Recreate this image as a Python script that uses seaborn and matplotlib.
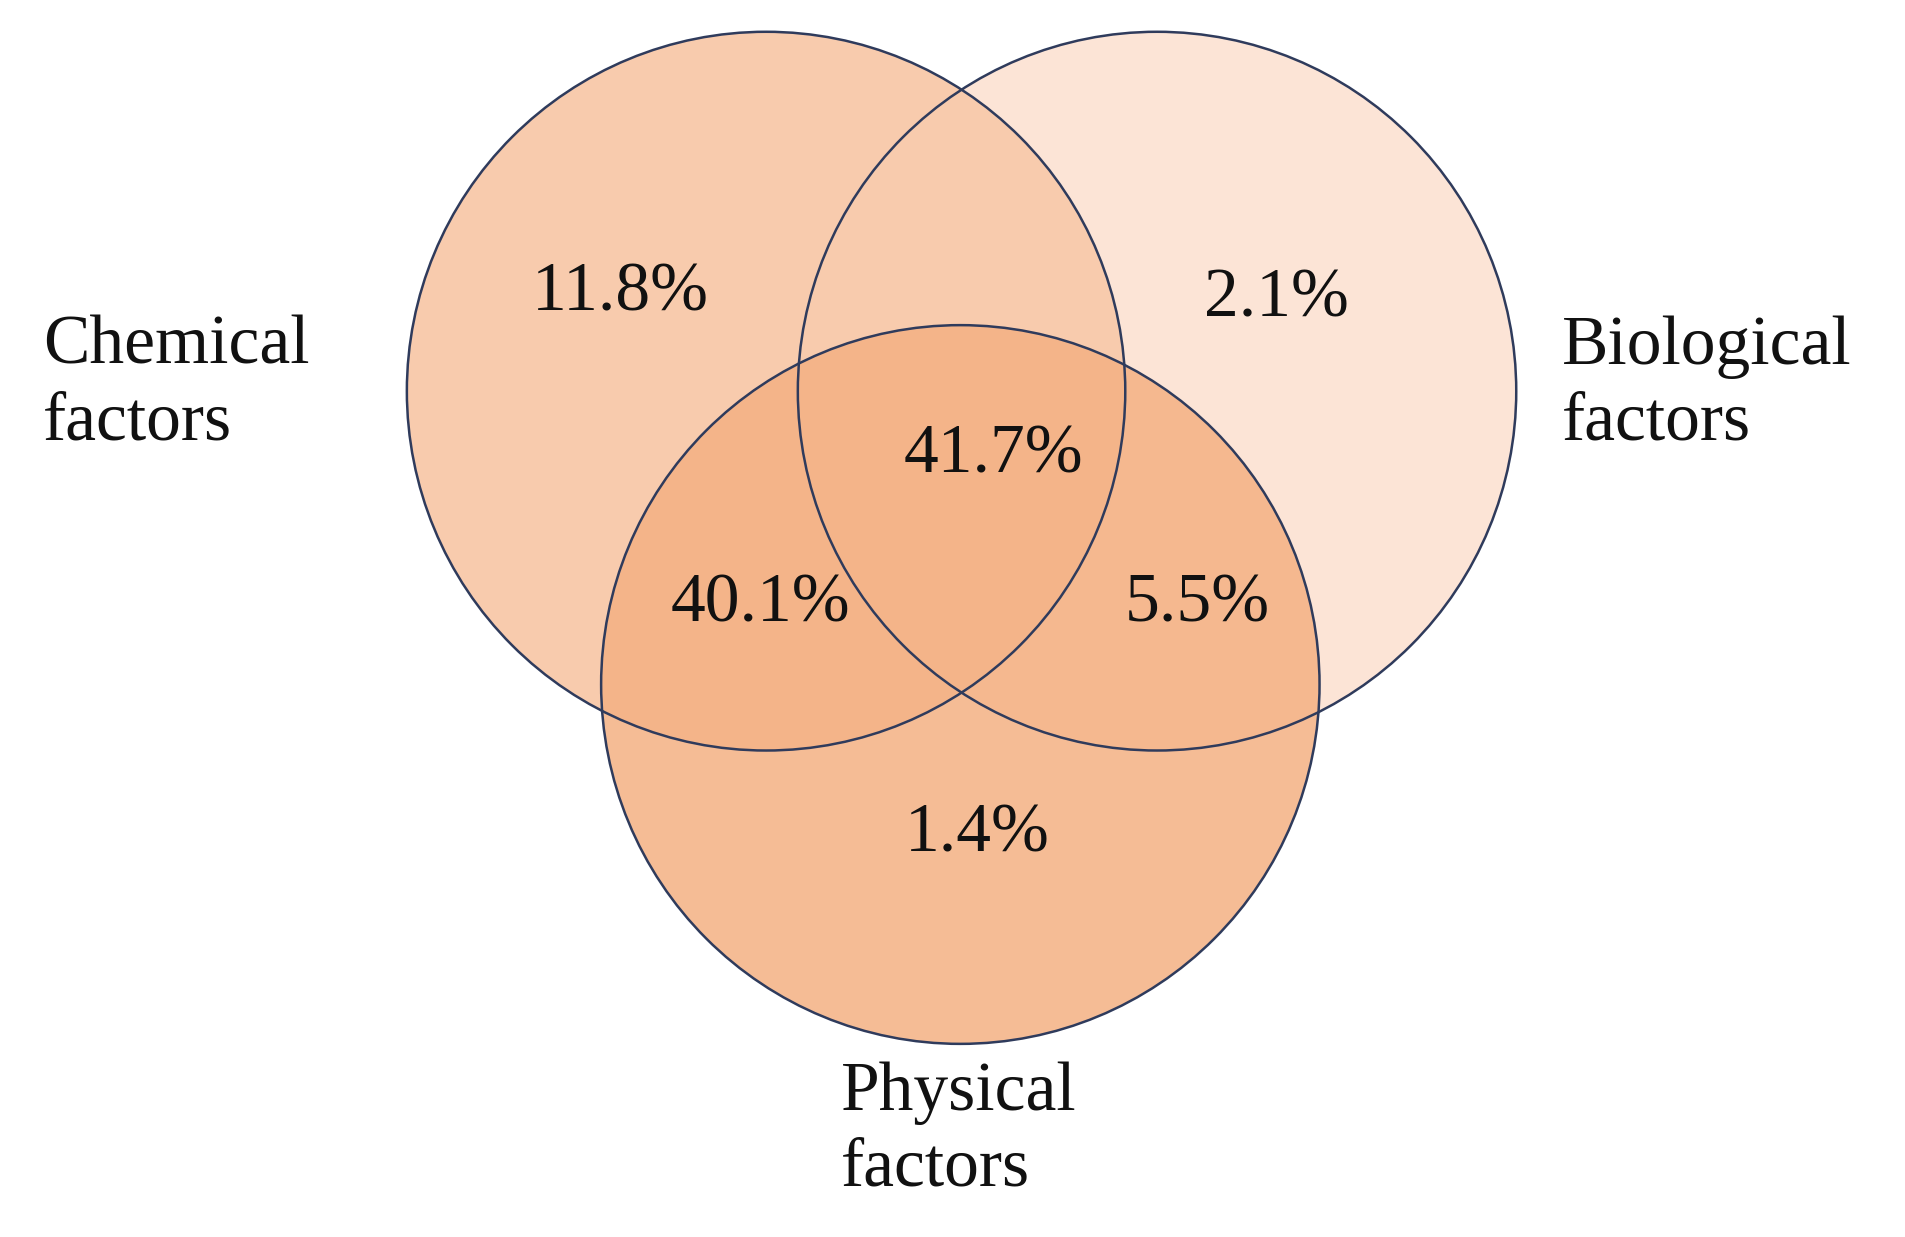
# Venn diagram of factor groups
import matplotlib
matplotlib.use("Agg")
import matplotlib.pyplot as plt
from matplotlib.patches import Circle
import seaborn as sns

sns.set_style("white")
plt.rcParams['font.family'] = ['Liberation Serif', 'DejaVu Serif']

# data
set_names = ["Chemical\nfactors", "Biological\nfactors", "Physical\nfactors"]
region_labels = ["11.8%", "2.1%", "41.7%", "40.1%", "5.5%", "1.4%"]

# layout (in reference pixel space, 1560 x 1012)
centers = [(627, 320), (947, 320), (786, 560)]
radius = 294
fills = ["#F8CBAD", "#FCE4D6", "#F4B183"]
alphas = [1.0, 1.0, 0.85]
draw_order = [1, 0, 2]
region_pos = [(508, 240), (1045, 245), (813, 373), (622, 495), (980, 495), (800, 683)]
name_pos = [(35, 315), (1278, 315), (688, 925)]

fig = plt.figure(figsize=(19.06, 12.37), dpi=100)
ax = fig.add_axes([0, 0, 1, 1])
ax.set_xlim(0, 1560)
ax.set_ylim(1012, 0)
ax.axis("off")

for i in draw_order:
    ax.add_patch(Circle(centers[i], radius, facecolor=fills[i], alpha=alphas[i],
                        edgecolor="none", zorder=1))
for i in draw_order:
    ax.add_patch(Circle(centers[i], radius, facecolor="none",
                        edgecolor="#2F3B5C", linewidth=1.8, zorder=2))

for txt, (x, y) in zip(region_labels, region_pos):
    ax.text(x, y, txt, ha="center", va="center", fontsize=50, color="#111111", zorder=3)

for txt, (x, y) in zip(set_names, name_pos):
    ax.text(x, y, txt, ha="left", va="center", fontsize=50, color="#111111",
            linespacing=1.25, zorder=3)

fig.savefig("out.png", dpi=100)
